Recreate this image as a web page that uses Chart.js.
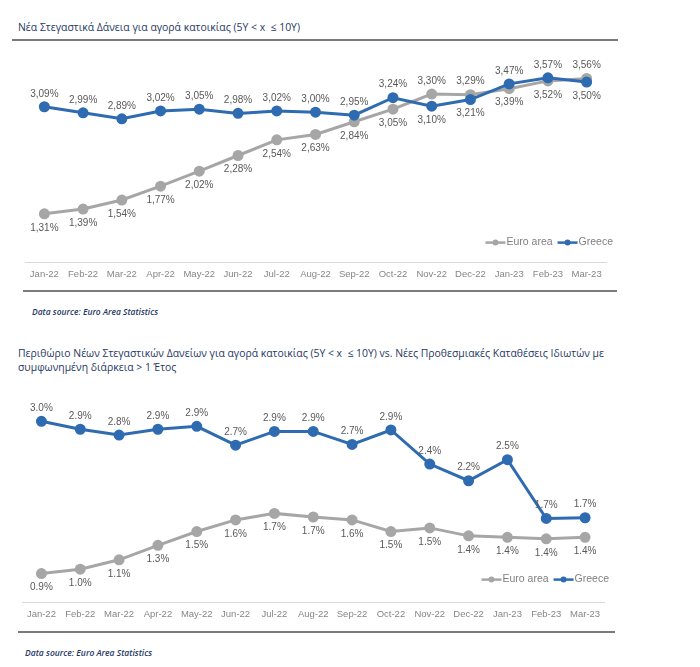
<!DOCTYPE html>
<html>
<head>
<meta charset="utf-8">
<script src="https://cdn.jsdelivr.net/npm/chart.js@4.4.0/dist/chart.umd.min.js"></script>
<style>
    body { margin: 0; background: #fff; }
    #page { position: relative; width: 700px; height: 667px; overflow: hidden; }
    .txt { position: absolute; white-space: nowrap; transform-origin: 0 50%; font-family: "Open Sans", sans-serif; }
    .title { font-size: 11px; line-height: 14px; color: #1f3864; }
    .src { font-size: 8.5px; line-height: 10px; font-style: italic; font-weight: 600; color: #1f3864; }
    .rule { position: absolute; height: 2px; background: #7a7a7a; }
    canvas { position: absolute; left: 0; }
</style>
</head>
<body>
<div id="page">
    <div class="txt title" id="t1" style="left:18px;top:20px">Νέα Στεγαστικά Δάνεια για αγορά κατοικίας (5Y &lt; x &nbsp;≤ 10Y)</div>
    <div class="rule" style="left:12px;top:39px;width:606px"></div>
    <canvas id="rateChart" style="top:45px" width="630" height="246"></canvas>
    <div class="rule" style="left:23px;top:290px;width:594px"></div>
    <div class="txt src" id="s1" style="left:32px;top:307px">Data source: Euro Area Statistics</div>

    <div class="txt title" id="t2a" style="left:18px;top:346px">Περιθώριο Νέων Στεγαστικών Δανείων για αγορά κατοικίας (5Y &lt; x &nbsp;≤ 10Y) vs. Νέες Προθεσμιακές Καταθέσεις Ιδιωτών με</div>
    <div class="txt title" id="t2b" style="left:18px;top:360px">συμφωνημένη διάρκεια &gt; 1 Έτος</div>
    <canvas id="marginChart" style="top:378px" width="630" height="252"></canvas>
    <div class="rule" style="left:18px;top:631px;width:597px"></div>
    <div class="txt src" id="s2" style="left:25px;top:648px">Data source: Euro Area Statistics</div>
</div>
<script>
// 月ラベル
const months = ['Jan-22', 'Feb-22', 'Mar-22', 'Apr-22', 'May-22', 'Jun-22', 'Jul-22', 'Aug-22',
    'Sep-22', 'Oct-22', 'Nov-22', 'Dec-22', 'Jan-23', 'Feb-23', 'Mar-23'];

// 新規住宅ローン金利 (%)
const euroRate = [1.31, 1.39, 1.54, 1.77, 2.02, 2.28, 2.54, 2.63, 2.84, 3.05, 3.30, 3.29, 3.39, 3.52, 3.56];
const greeceRate = [3.09, 2.99, 2.89, 3.02, 3.05, 2.98, 3.02, 3.00, 2.95, 3.24, 3.10, 3.21, 3.47, 3.57, 3.50];

// ローン金利と預金金利の差 (%)
const euroMargin = [0.90, 0.96, 1.09, 1.29, 1.48, 1.64, 1.73, 1.68, 1.64, 1.48, 1.53, 1.42, 1.40, 1.38, 1.40];
const greeceMargin = [3.00, 2.89, 2.81, 2.89, 2.93, 2.67, 2.86, 2.86, 2.68, 2.88, 2.41, 2.18, 2.47, 1.66, 1.67];

const seriesNames = ['Euro area', 'Greece'];
const seriesColors = ['#a6a6a6', '#2e6bb0'];

const labelFont = '"Liberation Sans", Arial, sans-serif';

// 各点の値ラベル (上の系列は上、下の系列は下)
const valueLabels = {
    id: 'valueLabels',
    afterDatasetsDraw(chart, args, opts) {
        const ctx = chart.ctx;
        const sets = chart.data.datasets;
        ctx.save();
        ctx.font = '10px ' + labelFont;
        ctx.fillStyle = '#595959';
        ctx.textAlign = 'center';
        ctx.textBaseline = 'middle';
        sets.forEach((ds, di) => {
            const other = sets[1 - di].data;
            chart.getDatasetMeta(di).data.forEach((pt, i) => {
                const v = ds.data[i];
                const up = v >= other[i];
                let txt = v.toFixed(opts.decimals) + '%';
                if (opts.comma) txt = txt.replace('.', ',');
                ctx.fillText(txt, pt.x, pt.y + (up ? -13 : 14));
            });
        });
        ctx.restore();
    }
};

// 線+点の凡例 (x軸の上、右寄せ)
const lineLegend = {
    id: 'lineLegend',
    afterDraw(chart, args, opts) {
        const ctx = chart.ctx;
        const xs = chart.scales.x;
        const y = xs.top - opts.gap;
        let right = xs.right + opts.shift;
        ctx.save();
        ctx.font = '10.5px ' + labelFont;
        ctx.textBaseline = 'middle';
        const sets = chart.data.datasets.slice().reverse();
        sets.forEach(ds => {
            const w = ctx.measureText(ds.label).width;
            ctx.fillStyle = '#7f7f7f';
            ctx.fillText(ds.label, right - w, y);
            const x1 = right - w - 1;
            const x0 = x1 - 20;
            ctx.strokeStyle = ds.borderColor;
            ctx.lineWidth = 2.5;
            ctx.beginPath();
            ctx.moveTo(x0, y);
            ctx.lineTo(x1, y);
            ctx.stroke();
            ctx.fillStyle = ds.borderColor;
            ctx.beginPath();
            ctx.arc((x0 + x1) / 2, y, 3, 0, Math.PI * 2);
            ctx.fill();
            right = x0 - 5;
        });
        ctx.restore();
    }
};

function makeDatasets(euro, greece) {
    return [euro, greece].map((data, i) => ({
        label: seriesNames[i],
        data: data,
        borderColor: seriesColors[i],
        backgroundColor: seriesColors[i],
        borderWidth: 3,
        pointRadius: 4,
        pointHoverRadius: 4,
        tension: 0,
        clip: false,
        order: 1 - i
    }));
}

function makeChart(id, euro, greece, yMin, yMax, padding, labelOpts, legendOpts) {
    return new Chart(document.getElementById(id), {
        type: 'line',
        data: { labels: months, datasets: makeDatasets(euro, greece) },
        options: {
            responsive: false,
            animation: false,
            layout: { padding: padding },
            plugins: {
                legend: { display: false },
                tooltip: { enabled: false },
                valueLabels: labelOpts,
                lineLegend: legendOpts
            },
            scales: {
                x: {
                    offset: true,
                    grid: { display: false, drawTicks: false },
                    border: { color: '#d9d9d9', width: 1 },
                    ticks: {
                        color: '#868686',
                        font: { family: labelFont, size: 9.5 },
                        padding: 6,
                        maxRotation: 0,
                        autoSkip: false
                    }
                },
                y: { display: false, min: yMin, max: yMax }
            }
        },
        plugins: [valueLabels, lineLegend]
    });
}

// 金利チャート
const rateChart = makeChart('rateChart', euroRate, greeceRate, 0.5, 4.0,
    { top: 7, bottom: 5, left: 25, right: 24 },
    { decimals: 2, comma: true },
    { gap: 20, shift: 7 });

// 利ざやチャート
const marginChart = makeChart('marginChart', euroMargin, greeceMargin, 0.5, 3.5,
    { top: 4.5, bottom: 4, left: 22, right: 25.5 },
    { decimals: 1, comma: false },
    { gap: 23, shift: 4.5 });

// タイトル幅を元画像に合わせる
function fitText(el, width) {
    const w = el.getBoundingClientRect().width;
    const s = width / w;
    el.style.transform = 'scaleX(' + s + ')';
    return s;
}
fitText(document.getElementById('t1'), 282);
const s2 = fitText(document.getElementById('t2a'), 586);
document.getElementById('t2b').style.transform = 'scaleX(' + s2 + ')';
fitText(document.getElementById('s1'), 126);
fitText(document.getElementById('s2'), 127);
</script>
</body>
</html>
